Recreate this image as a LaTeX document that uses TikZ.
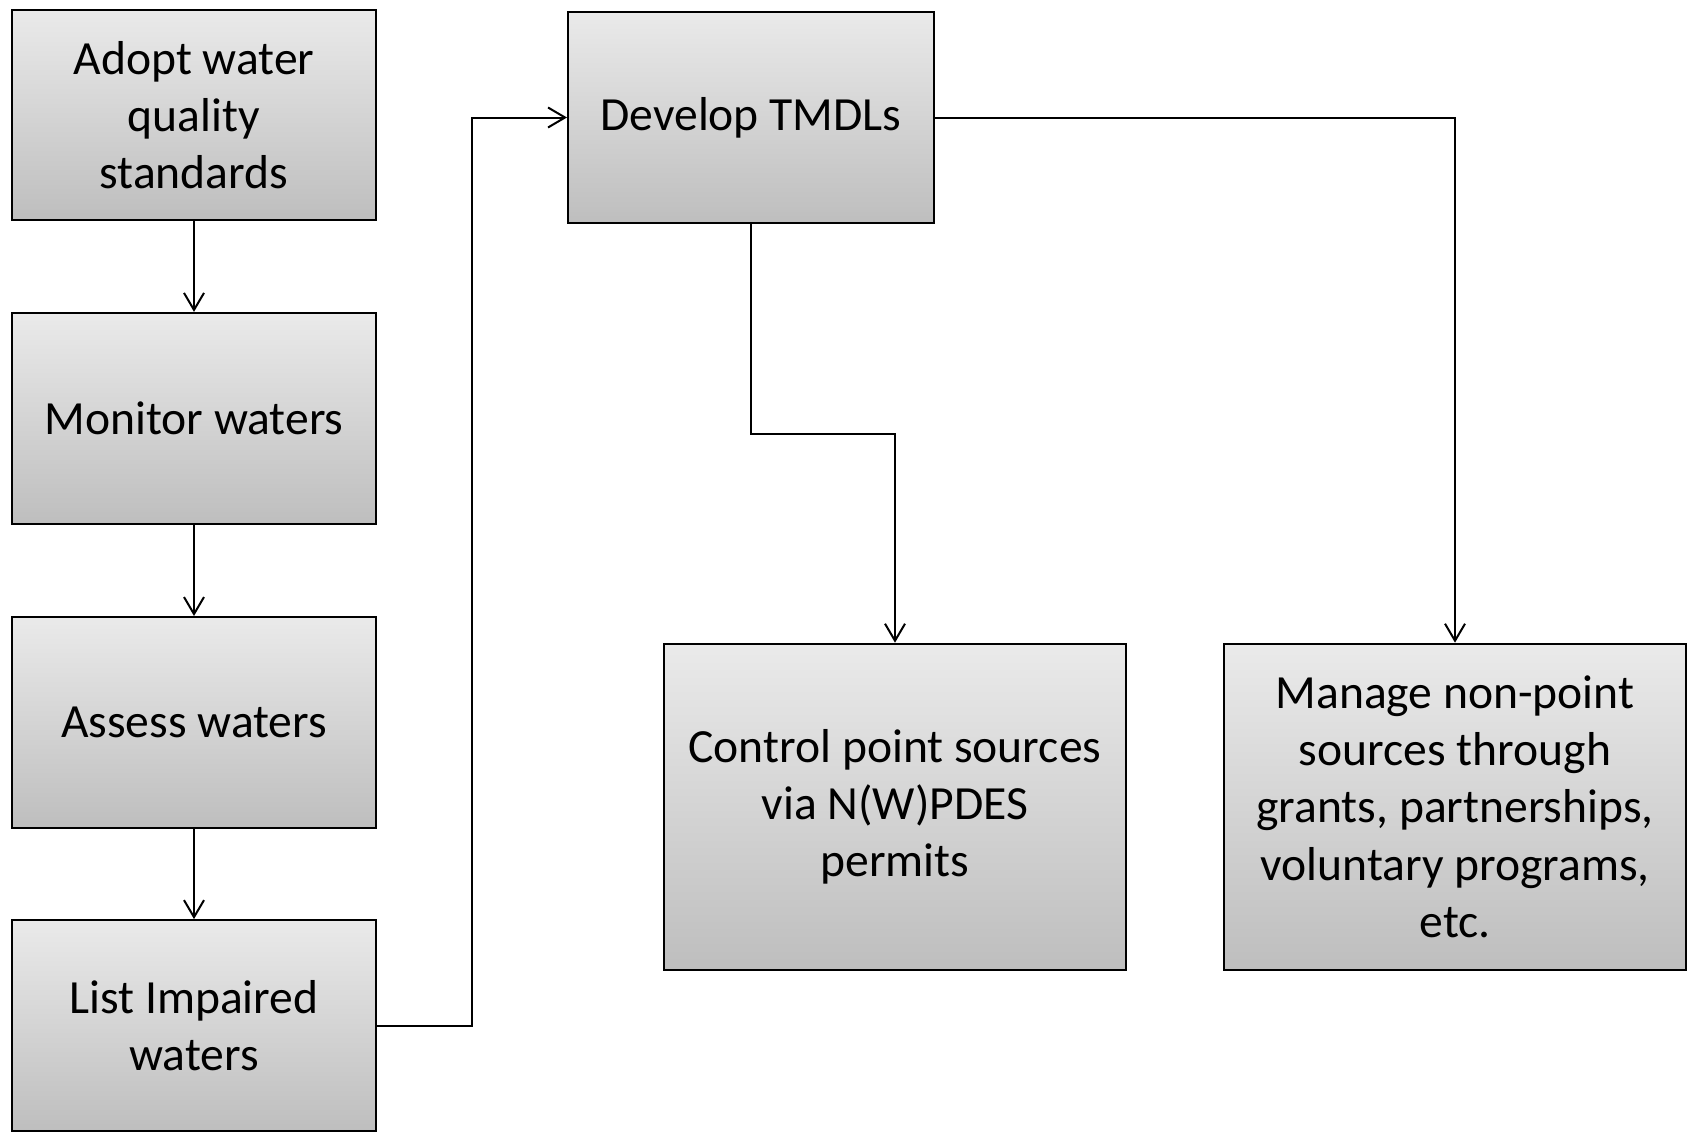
\documentclass[tikz,border=0pt]{standalone}
\usepackage{fontspec}
\setmainfont{Carlito}
\usetikzlibrary{arrows.meta}
\definecolor{boxtop}{HTML}{EAEAEA}
\definecolor{boxbot}{HTML}{BEBEBE}
\tikzset{
  stepbox/.style={draw=black, line width=1pt, rectangle, inner sep=0pt,
    top color=boxtop, bottom color=boxbot, align=center,
    font=\fontsize{23.8}{28.6}\selectfont, text=black},
  conn/.style={draw=black, line width=1pt,
    -{Straight Barb[length=8.5pt,width=10pt,line width=1pt]}}
}
\begin{document}
\begin{tikzpicture}[x=0.5pt,y=-0.5pt]
\useasboundingbox (0,0) rectangle (1691,1135);
\node[stepbox, minimum width=182pt, minimum height=105pt] (adopt) at (194,115) {Adopt water\\quality\\standards};
\node[stepbox, minimum width=182pt, minimum height=105.5pt] (monitor) at (194,418.4) {Monitor waters};
\node[stepbox, minimum width=182pt, minimum height=105.5pt] (assess) at (194,722.5) {Assess waters};
\node[stepbox, minimum width=182pt, minimum height=105.5pt] (list) at (194,1025.6) {List Impaired\\waters};
\node[stepbox, minimum width=183pt, minimum height=105.5pt] (develop) at (751,117.5) {Develop TMDLs};
\node[stepbox, minimum width=231pt, minimum height=163pt] (control) at (895,806.7) {Control point sources\\via N(W)PDES\\permits};
\node[stepbox, minimum width=231pt, minimum height=163pt] (manage) at (1455,806.7) {Manage non-point\\sources through\\grants, partnerships,\\voluntary programs,\\etc.};
\coordinate (bendL) at (472,500);
\coordinate (bendM) at (820,433.5);
\draw[conn] (adopt) -- (monitor);
\draw[conn] (monitor) -- (assess);
\draw[conn] (assess) -- (list);
\draw[conn] (list.east) -| (bendL) |- (develop.west);
\draw[conn] (develop.east) -| (manage.north);
\draw[conn] (develop.south) |- (bendM) -| (control.north);
\end{tikzpicture}
\end{document}
